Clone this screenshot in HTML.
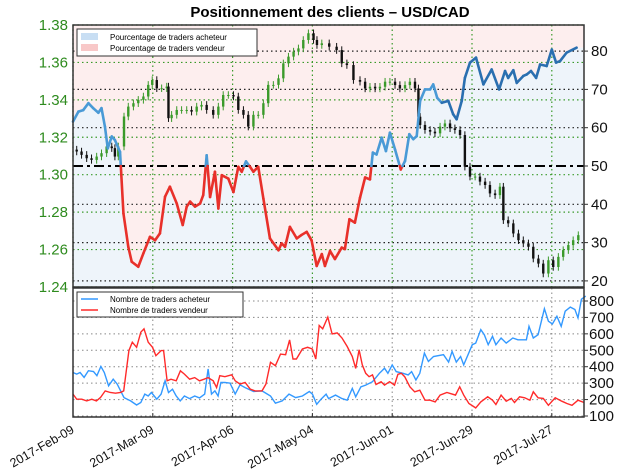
<!DOCTYPE html>
<html><head><meta charset="utf-8"><style>
body{margin:0;background:#fff;width:624px;height:470px;overflow:hidden;font-family:"Liberation Sans",sans-serif}
svg text{font-family:"Liberation Sans",sans-serif}
</style></head><body>
<svg id="c" width="624" height="470" xmlns="http://www.w3.org/2000/svg">
<text x="330" y="17" text-anchor="middle" font-size="15" font-weight="bold">Positionnement des clients – USD/CAD</text>
</svg>
<script>
const dateLabels=["2017-Feb-09","2017-Mar-09","2017-Apr-06","2017-May-04","2017-Jun-01","2017-Jun-29","2017-Jul-27"];
const dateDays=[0,28,56,84,112,140,168];
const priceTicks=[1.24,1.26,1.28,1.30,1.32,1.34,1.36,1.38];
const pctTicks=[20,30,40,50,60,70,80];
const countTicks=[100,200,300,400,500,600,700,800];
const pctDays=[0,1.9,3.6,5.4,7.1,8.9,10,11.2,12.2,13.6,14.7,16.5,17.7,19.4,20.6,22.9,24.7,27,28.8,30.5,32.3,34,36.4,38.5,39.9,41.1,42.8,44.6,45.7,46.9,48.1,49.8,51,52.2,54.5,56.3,58,59.2,60.7,62.1,63.3,65,66.8,69.1,72.1,73.2,74.4,76.1,78.5,80.2,82,83.7,85.5,87.3,88.4,90.2,91.9,94.3,95.4,97,98.9,100.7,102.5,104.2,105.2,106.5,108.3,109.8,111.2,113,115,116.5,118,119.4,120.6,121.8,123.5,125.3,126.4,127.8,129.4,131.7,133.4,134.6,136.4,137.5,139.3,141.4,144,146.9,149.5,151.6,152.7,154.5,155.7,158,159.2,160.7,162.5,163.9,166.2,168,169.5,170.9,173.2,176.7];
const pctVals=[61.6,64.2,64.6,66.4,65.1,63.9,65.1,60.3,54.6,57.7,56.8,53.7,37.6,28.9,25,23.7,27.2,31.5,30.6,32.4,42,44.6,40.2,34.6,39.4,40.7,39.4,40.2,42.4,52.8,41.9,48.5,38.9,47.6,46.7,43.2,49.8,48.5,51.2,49.8,48.5,49.8,41.5,31.1,28,29.8,28.9,34.1,31.1,32,32.8,30.6,23.9,27,23.9,27.8,25.7,28.7,28.3,36.1,35.2,41.7,47,46.5,53.5,53,57.4,53.9,58.7,54.3,49.1,51.3,58.3,57,57.8,67,70,70,71.3,67.8,66.5,67,63.5,62.2,67,73,77,78.3,71.3,75.2,70,74.8,73,75,71.7,73.5,73.9,74.8,73,76.5,76.1,80.4,77,77.4,79.6,80.9];
const candleDays=[1.3,3,4.8,6.5,8.3,10,11.8,13.6,14.7,15.9,17.9,19.4,21.2,22.9,24.7,26.4,27.8,29.4,31.1,32.9,33.5,34.6,36.4,38.1,39.9,41.6,43.4,45.1,46.9,49.2,51,52.7,54.5,56.3,58,59.8,61.5,63.3,65,66.8,68.5,70.3,72.1,73.8,75.6,77.4,79.1,80.8,82.6,84.4,85.6,87.3,89.9,92.5,94.3,96.1,98.4,100.7,102.5,104.2,106,107.7,109.5,111.2,113,114.7,116.5,118.2,120,121.2,121.8,123.5,125.3,127,128.8,130.5,132.3,134,135.8,137.5,139.3,141.1,142.8,144.6,146.3,148.1,149.8,151,152.7,154.5,156.3,158,159.8,161.5,163.3,165,166.8,168.5,170.3,172,173.8,175.5,177.3];
const candleClose=[1.3124,1.3106,1.3088,1.3079,1.3097,1.3115,1.3151,1.3142,1.3097,1.3151,1.3311,1.3364,1.3382,1.34,1.3418,1.348,1.3506,1.3462,1.3462,1.3471,1.3302,1.332,1.3346,1.3346,1.3346,1.3337,1.3364,1.3373,1.3346,1.332,1.3364,1.3426,1.3426,1.3418,1.3346,1.332,1.3257,1.332,1.332,1.3382,1.348,1.348,1.3515,1.3595,1.3631,1.3658,1.3675,1.372,1.3756,1.372,1.3693,1.3702,1.3684,1.3666,1.3595,1.3586,1.3506,1.3497,1.3461,1.347,1.3461,1.347,1.3497,1.3497,1.3479,1.3461,1.3479,1.3497,1.3461,1.331,1.3266,1.3239,1.323,1.3221,1.3257,1.3274,1.3248,1.3239,1.3212,1.3043,1.299,1.299,1.2963,1.2945,1.29,1.2891,1.2936,1.2757,1.274,1.2686,1.265,1.2633,1.2615,1.2552,1.2525,1.2472,1.2543,1.2507,1.2561,1.2597,1.2624,1.265,1.2677];
const buyDays=[0,1.3,2.5,3.9,5.4,7.2,8.4,9.8,11,12.5,14.1,15.5,17.9,20.2,22.3,23.8,25.2,26.4,27.5,29.4,30.9,32.3,33.5,34.9,36.2,37.6,39.1,40.9,42.7,44.4,46.2,47.4,48.6,49.8,50.9,51.9,53.3,55.1,56.9,58.6,60.4,63.4,66.3,69.3,71,73.4,75.8,78.1,80.5,82.9,84,85.5,87,88.8,89.7,92.1,94.4,96.2,98,99.2,101,102.7,105.1,107.5,109.3,110.5,112,113.4,115.8,117.6,118.8,120.3,121.7,123.3,124.7,126.5,130,131.8,133,134.5,136,137.1,140.1,141.3,143.1,144.3,145.7,147.2,148.4,150.2,152,154.3,156.1,159.1,160,161.5,163.2,165.4,166.8,168.2,169.8,171.3,172.7,174.5,176.1,177.2,178.4,179.9];
const buyVals=[365,355,365,335,376,371,345,402,365,284,324,294,212,192,167,182,233,222,243,202,233,314,243,263,222,192,222,206,222,210,233,386,233,253,222,304,304,300,233,290,273,249,253,222,178,192,233,212,222,249,233,171,202,233,206,227,206,196,268,217,278,288,309,360,391,360,411,370,360,350,370,319,360,483,432,462,473,428,493,428,462,411,534,544,626,595,534,585,534,575,544,575,564,564,646,575,595,753,677,660,707,646,738,763,748,697,810,830];
const sellDays=[0,1.3,3.1,4.8,6.6,8.2,9.6,11.3,13.1,14.9,16.7,17.8,19.6,20.8,22.3,23.8,24.9,26.4,27.9,29.1,30.9,31.8,33,34.4,36.2,37.7,39.1,40.9,42.7,44.4,46,47.4,49.2,50.4,51.5,53.3,55.7,56.9,58.6,60.4,62.2,63.9,66.3,67.7,69.3,71,72.8,74.6,76,77.2,78.4,80.5,82.3,84,85.2,86.4,87.6,89.4,90.9,92.7,94.4,96.2,98,99.2,100.4,101.5,102.7,103.9,105.1,106.3,108.1,109.3,111.1,112.8,114,115.2,116.4,118.2,119.9,121.7,123.5,125.3,127.1,128.8,131.2,134.2,135.7,137.1,138.9,141.3,143.1,145.5,147.2,148.4,150.2,152,153.8,154.9,156.7,158.5,160.3,161.5,163.2,165,166.8,169.2,171.5,173.3,175.1,177.2,179.3];
const sellVals=[233,202,202,192,202,192,212,253,243,239,243,253,498,549,518,610,631,549,518,467,498,498,314,324,314,375,355,324,334,314,324,334,314,273,345,339,351,314,294,304,263,253,253,294,427,406,477,473,563,447,447,508,518,508,447,651,631,702,600,606,575,523,462,390,503,411,360,339,350,292,309,288,309,288,354,360,339,278,247,257,196,196,186,227,243,227,278,227,176,149,186,217,196,170,227,190,207,182,217,211,196,247,211,207,165,211,190,176,165,196,182];

const svg=document.getElementById('c');const NS='http://www.w3.org/2000/svg';
const L=73,R=584,T=25,B=287,T2=288,B2=417;
const xD=d=>L+d*2.85;
const yP=p=>T+(1.38-p)*1871.4;
const yPct=v=>166-(v-50)*3.83;
const yC=v=>416-(v-100)*0.1643;
function mk(tag,a,parent){const e=document.createElementNS(NS,tag);for(const k in a)e.setAttribute(k,a[k]);(parent||svg).appendChild(e);return e;}

const pts=pctDays.map((d,i)=>xD(d).toFixed(1)+','+yPct(pctVals[i]).toFixed(1));
const fa=mk('path',{d:'M'+L+','+T+' L'+L+','+yPct(pctVals[0])+' L'+pts.join(' L')+' L'+R+','+yPct(pctVals[pctVals.length-1])+' L'+R+','+T+'Z',fill:'#fdeeee'});

const fb=mk('path',{d:'M'+L+','+B+' L'+L+','+yPct(pctVals[0])+' L'+pts.join(' L')+' L'+R+','+yPct(pctVals[pctVals.length-1])+' L'+R+','+B+'Z',fill:'#eef4fa'});


const g=mk('g',{});
priceTicks.forEach(p=>mk('line',{x1:L,x2:R,y1:yP(p),y2:yP(p),stroke:'#3a9a2a','stroke-dasharray':'1.5,3','stroke-width':1.2},g));
pctTicks.forEach(v=>{if(v!==50)mk('line',{x1:L,x2:R,y1:yPct(v),y2:yPct(v),stroke:'#222','stroke-dasharray':'1.5,3','stroke-width':1.2},g);});
dateDays.forEach(d=>mk('line',{x1:xD(d),x2:xD(d),y1:T,y2:B,stroke:'#3a9a2a','stroke-dasharray':'1.5,3','stroke-width':1.2},g));
const fifty=mk('line',{x1:L,x2:R,y1:yPct(50),y2:yPct(50),stroke:'#000','stroke-width':2,'stroke-dasharray':'10,4,3,4'});


const cg=mk('g',{});
candleClose.forEach((c,i)=>{const o=i?candleClose[i-1]:c+0.001;const x=xD(candleDays[i]);const up=c>=o;const col=up?'#3a9a2a':'#111';
 const hi=Math.max(o,c)+0.002,lo=Math.min(o,c)-0.002;
 mk('line',{x1:x,x2:x,y1:yP(hi),y2:yP(lo),stroke:col,'stroke-width':1},cg);
 const b=mk('rect',{x:x-1.2,y:yP(Math.max(o,c)),width:2.4,height:Math.max(1,Math.abs(yP(o)-yP(c))),fill:col},cg);
 });

const lg=mk('g',{});
for(let i=0;i<pctDays.length-1;i++){const d0=pctDays[i],d1=pctDays[i+1],v0=pctVals[i],v1=pctVals[i+1];
 const seg=(a,b,va,vb)=>{mk('line',{x1:xD(a),y1:yPct(va),x2:xD(b),y2:yPct(vb),stroke:((va+vb)/2>=50)?(b>130?'#2a6fb0':'#4a9ad6'):'#e8302a','stroke-width':2.6,'stroke-linecap':'round'},lg);};
 if((v0-50)*(v1-50)<0){const t=(50-v0)/(v1-v0);const dm=d0+t*(d1-d0);seg(d0,dm,v0,50);seg(dm,d1,50,v1);}else seg(d0,d1,v0,v1);}

mk('rect',{x:L,y:T,width:R-L,height:B-T,fill:'none',stroke:'#333','stroke-width':1.5});
priceTicks.forEach(p=>{const t=mk('text',{x:68,y:yP(p)+5,'text-anchor':'end','font-size':15,fill:'#2e8b1e'});t.textContent=p.toFixed(2);});
pctTicks.forEach(v=>{mk('line',{x1:R,x2:R+4,y1:yPct(v),y2:yPct(v),stroke:'#333'});const t=mk('text',{x:591,y:yPct(v)+5,'font-size':15,fill:'#111'});t.textContent=v;});

const l1=mk('g',{});
mk('rect',{x:77,y:29,width:180,height:27,fill:'#fff',stroke:'#333','stroke-width':1},l1);
mk('rect',{x:81,y:33,width:17,height:7,fill:'#c8def3'},l1);mk('rect',{x:81,y:44,width:17,height:7,fill:'#f8c8c8'},l1);
let t=mk('text',{x:110,y:40,'font-size':8},l1);t.textContent='Pourcentage de traders acheteur';
t=mk('text',{x:110,y:51,'font-size':8},l1);t.textContent='Pourcentage de traders vendeur';

const g2=mk('g',{});
countTicks.forEach(v=>mk('line',{x1:L,x2:R,y1:yC(v),y2:yC(v),stroke:'#888','stroke-dasharray':'1.5,3'},g2));
dateDays.forEach(d=>mk('line',{x1:xD(d),x2:xD(d),y1:T2,y2:B2,stroke:'#888','stroke-dasharray':'1.5,3'},g2));
const bl=mk('polyline',{points:buyDays.map((d,i)=>xD(d).toFixed(1)+','+yC(buyVals[i]).toFixed(1)).join(' '),fill:'none',stroke:'#3399ff','stroke-width':1.4});

const sl=mk('polyline',{points:sellDays.map((d,i)=>xD(d).toFixed(1)+','+yC(sellVals[i]).toFixed(1)).join(' '),fill:'none',stroke:'#ff2a2a','stroke-width':1.4});

mk('rect',{x:L,y:T2,width:R-L,height:B2-T2,fill:'none',stroke:'#333','stroke-width':1.5});
countTicks.forEach(v=>{mk('line',{x1:R,x2:R+4,y1:yC(v),y2:yC(v),stroke:'#333'});const tt=mk('text',{x:589,y:yC(v)+5,'font-size':15,fill:'#111'});tt.textContent=v;});
dateLabels.forEach((s,i)=>{const x=xD(dateDays[i]);mk('line',{x1:x,x2:x,y1:B2,y2:B2-4,stroke:'#333'});const tt=mk('text',{x:x+2,y:432,'text-anchor':'end','font-size':12.5,fill:'#111',transform:'rotate(-30 '+(x+2)+' 432)'});tt.textContent=s;});
const l2=mk('g',{});
mk('rect',{x:77,y:292,width:166,height:25,fill:'#fff',stroke:'#333','stroke-width':1},l2);
mk('line',{x1:81,x2:98,y1:299,y2:299,stroke:'#3399ff','stroke-width':1.5},l2);mk('line',{x1:81,x2:98,y1:310,y2:310,stroke:'#ff2a2a','stroke-width':1.5},l2);
t=mk('text',{x:110,y:302,'font-size':8},l2);t.textContent='Nombre de traders acheteur';
t=mk('text',{x:110,y:313,'font-size':8},l2);t.textContent='Nombre de traders vendeur';
</script>
</body></html>
